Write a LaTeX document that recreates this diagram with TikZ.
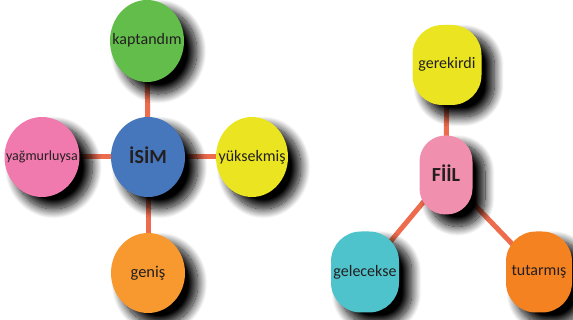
\documentclass[tikz,border=0pt]{standalone}
\usepackage{fontspec}
\setmainfont{Carlito}
\usetikzlibrary{shapes.geometric,shadows.blur}
\definecolor{cgreen}{HTML}{62BD4A}
\definecolor{cblue}{HTML}{4676BC}
\definecolor{cpink}{HTML}{F07AAE}
\definecolor{cyellow}{HTML}{EAE520}
\definecolor{corange}{HTML}{F7992E}
\definecolor{cpink2}{HTML}{F190AE}
\definecolor{ccyan}{HTML}{4EC3CB}
\definecolor{corange2}{HTML}{F58220}
\definecolor{cline}{HTML}{EE6C4E}
\definecolor{ctext}{HTML}{231F20}
\pgfdeclarelayer{bg}
\pgfsetlayers{bg,main}
\tikzset{
  shad/.style={blur shadow={shadow xshift=11pt, shadow yshift=-10pt, shadow scale=1.04, shadow blur radius=9pt, shadow blur steps=18, shadow opacity=100}},
  ell/.style={ellipse, shad, inner sep=0pt, minimum width=74pt, minimum height=80pt, text=ctext},
  rbox/.style={rectangle, rounded corners=30pt, shad, inner sep=0pt, minimum width=68pt, minimum height=80pt, text=ctext},
  conn/.style={draw=cline, line width=5pt},
}
\newcommand{\zt}[2]{\makebox[0pt][c]{\fontsize{#1}{#1}\selectfont #2}}
\begin{document}
\begin{tikzpicture}[x=1pt,y=-1pt]
\useasboundingbox (0,0) rectangle (573,320);
\node[ell, fill=cgreen, minimum height=82pt] (kap) at (147,41) {\raisebox{4pt}{\zt{16pt}{kaptandım}}};
\node[ell, fill=cblue] (isim) at (148,157) {\raisebox{3pt}{\zt{20pt}{\bfseries İSİM}}};
\node[ell, fill=cpink, minimum width=75pt] (yag) at (42,157) {\raisebox{2pt}{\zt{14pt}{yağmurluysa}}};
\node[ell, fill=cyellow, minimum width=72pt] (yuk) at (252,157) {\raisebox{-1pt}{\zt{16pt}{yüksekmiş}}};
\node[ell, fill=corange] (gen) at (148,273) {\zt{16.5pt}{geniş}};
\node[rbox, fill=cyellow, minimum width=69pt] (ger) at (447,65) {\raisebox{5pt}{\zt{16pt}{gerekirdi}}};
\node[rbox, rounded corners=26pt, fill=cpink2, minimum width=53pt, minimum height=79pt] (fiil) at (446,175) {\raisebox{3pt}{\zt{20pt}{\bfseries FİİL}}};
\node[rbox, fill=ccyan, minimum height=81pt] (gel) at (365,272) {\zt{16pt}{gelecekse}};
\node[rbox, fill=corange2, minimum width=66pt, minimum height=81pt] (tut) at (539,272) {\zt{16pt}{tutarmış}};
\begin{pgfonlayer}{bg}
\draw[conn] (isim) -- (kap);
\draw[conn] (isim) -- (yag);
\draw[conn] (isim) -- (yuk);
\draw[conn] (isim) -- (gen);
\draw[conn] (fiil.center) -- (ger.center);
\draw[conn] (fiil.center) -- (gel.center);
\draw[conn] (fiil.center) -- (tut.center);
\end{pgfonlayer}
\end{tikzpicture}
\end{document}
